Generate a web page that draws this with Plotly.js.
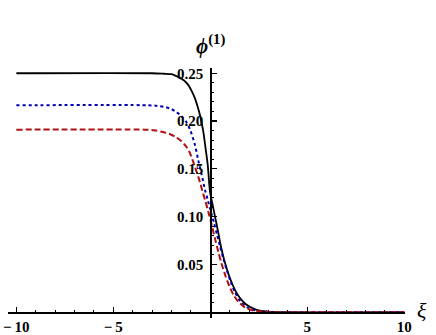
<!DOCTYPE html>
<html>
<head>
<meta charset="utf-8">
<script src="https://cdn.plot.ly/plotly-3.0.1.min.js"></script>
<style>html,body{margin:0;padding:0;background:#fff;}</style>
</head>
<body>
<div id="chart" style="width:436px;height:335px;"></div>
<script>
// Black solid curve
var xiBlack = [-10,-3,-2.4,-2,-1.65,-1.35,-1.13,-0.95,-0.79,-0.65,-0.53,-0.36,-0.24,-0.13,-0.015,0.12,0.26,0.40,0.53,0.67,0.84,1.01,1.27,1.53,1.87,2.39,3,4,10];
var phiBlack = [0.25,0.25,0.2495,0.249,0.246,0.2425,0.2376,0.231,0.2237,0.215,0.206,0.189,0.171,0.154,0.1264,0.1125,0.0985,0.0845,0.0706,0.0584,0.0462,0.0358,0.0235,0.0149,0.0078,0.0026,0.0007,0.0001,0];
// Blue dotted curve
var xiBlue = [-10,-3.2,-2.7,-2.3,-2.0,-1.75,-1.5,-1.25,-1.05,-0.79,-0.62,-0.44,-0.27,-0.13,0,0.19,0.35,0.5,0.67,0.85,1.05,1.27,1.55,1.88,2.3,3,4,10];
var phiBlue = [0.2165,0.2165,0.2158,0.2145,0.2125,0.2095,0.2055,0.1995,0.1915,0.175,0.159,0.1435,0.128,0.1175,0.1075,0.0935,0.081,0.069,0.0565,0.044,0.032,0.021,0.0115,0.0055,0.002,0.0004,0.0001,0];
// Red dashed curve
var xiRed = [-10,-3.4,-2.9,-2.5,-2.1,-1.8,-1.5,-1.25,-1.05,-0.79,-0.53,-0.41,-0.27,-0.1,0.07,0.25,0.41,0.58,0.76,0.97,1.19,1.45,1.79,2.2,3,4,10];
var phiRed = [0.191,0.191,0.1903,0.1888,0.1865,0.1835,0.1792,0.1735,0.1665,0.152,0.136,0.127,0.1175,0.105,0.0915,0.0765,0.0635,0.051,0.0395,0.028,0.0185,0.011,0.0052,0.0019,0.0003,0.0001,0];

var xTickVals = [-10,-5,5,10];
var xTickText = ["\u2212\u200910","\u2212\u20095","5","10"];
var yTickVals = [0.05,0.10,0.15,0.20,0.25];
var yTickText = ["0.05","0.10","0.15","0.20","0.25"];

var xRange = [-10.43, 10.04];
var yRange = [-0.006, 0.2555];

function bold(arr) { return arr.map(function (s) { return '<b>' + s + '</b>'; }); }

var traces = [
  {x: xiBlack, y: phiBlack, mode: 'lines', line: {color: '#000000', width: 1.8, shape: 'spline', smoothing: 0.8}},
  {x: xiBlue, y: phiBlue, mode: 'lines', line: {color: '#0000b0', width: 2, dash: '3px,3px', shape: 'spline', smoothing: 0.8}},
  {x: xiRed, y: phiRed, mode: 'lines', line: {color: '#b01010', width: 2, dash: '6px,3px', shape: 'spline', smoothing: 0.8}}
];

var tickFont = {family: 'Liberation Serif', size: 15, color: '#000'};

var layout = {
  width: 436, height: 335,
  margin: {l: 8, r: 31, t: 68, b: 17},
  paper_bgcolor: '#fff', plot_bgcolor: '#fff',
  showlegend: false,
  xaxis: {
    range: xRange, anchor: 'free',
    position: (0 - yRange[0]) / (yRange[1] - yRange[0]),
    showline: true, linecolor: '#000', linewidth: 1.3,
    showgrid: false, zeroline: false,
    ticks: 'inside', ticklen: 5, tickwidth: 1.2, tickcolor: '#000',
    tickmode: 'array', tickvals: xTickVals, ticktext: bold(xTickText),
    tickfont: tickFont,
    minor: {tickmode: 'linear', tick0: 0, dtick: 1, ticks: 'inside', ticklen: 2.5, tickwidth: 1, tickcolor: '#000'}
  },
  yaxis: {
    range: yRange, anchor: 'free',
    position: (0 - xRange[0]) / (xRange[1] - xRange[0]),
    side: 'left',
    showline: true, linecolor: '#000', linewidth: 1.3,
    showgrid: false, zeroline: false,
    ticks: 'inside', ticklen: 5, tickwidth: 1.2, tickcolor: '#000',
    tickmode: 'array', tickvals: yTickVals, ticktext: bold(yTickText),
    tickfont: tickFont, ticklabelstandoff: 4,
    minor: {tickmode: 'linear', tick0: 0, dtick: 0.01, ticks: 'inside', ticklen: 2.5, tickwidth: 1, tickcolor: '#000'}
  },
  annotations: [
    {xref: 'paper', yref: 'paper', x: (210 - 8) / 397, y: (318 - 45) / 250, xanchor: 'center', yanchor: 'middle',
     text: '<b><i>\u03d5</i><sup>(1)</sup></b>', showarrow: false,
     font: {family: 'Liberation Serif', size: 21, color: '#000'}},
    {xref: 'paper', yref: 'paper', x: (422 - 8) / 397, y: (318 - 310) / 250, xanchor: 'center', yanchor: 'middle',
     text: '<i>\u03be</i>', showarrow: false,
     font: {family: 'Liberation Serif', size: 22, color: '#000'}}
  ]
};

Plotly.newPlot('chart', traces, layout, {displayModeBar: false, staticPlot: true});
</script>
</body>
</html>
